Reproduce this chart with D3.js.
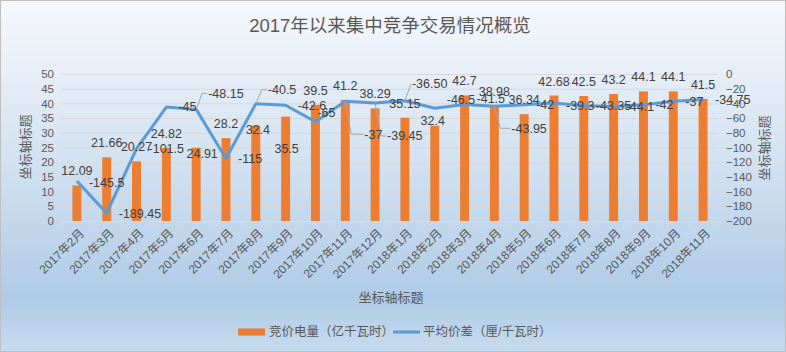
<!DOCTYPE html>
<html>
<head>
<meta charset="utf-8">
<script src="https://cdn.jsdelivr.net/npm/d3@7"></script>
<style>
  body { margin: 0; }
  text { font-family: "Liberation Sans", "Noto Sans CJK SC", sans-serif; }
</style>
</head>
<body>
<div id="chart"></div>
<script>
//Chart data
const months = ['2017年2月','2017年3月','2017年4月','2017年5月','2017年6月','2017年7月','2017年8月','2017年9月','2017年10月','2017年11月','2017年12月',
	'2018年1月','2018年2月','2018年3月','2018年4月','2018年5月','2018年6月','2018年7月','2018年8月','2018年9月','2018年10月','2018年11月'];
const volume = [12.09,21.66,20.27,24.82,24.91,28.2,32.4,35.5,39.5,41.2,38.29,35.15,32.4,42.7,38.98,36.34,42.68,42.5,43.2,44.1,44.1,41.5];
const spread = [-145.5,-189.45,-101.5,-45,-48.15,-115,-40.5,-42.6,-65,-37,-39.45,-36.50,-46.5,-41.5,-43.95,-42,-39.3,-43.35,-44.1,-42,-37,-34.75];
const spreadText = ['-145.5','-189.45','-101.5','-45','-48.15','-115','-40.5','-42.6','-65','-37','-39.45','-36.50','-46.5','-41.5','-43.95','-42','-39.3','-43.35','-44.1','-42','-37','-34.75'];
const leftTicks = [0,5,10,15,20,25,30,35,40,45,50];
const rightTicks = [0,-20,-40,-60,-80,-100,-120,-140,-160,-180,-200];
const seriesNames = ['竞价电量（亿千瓦时）','平均价差（厘/千瓦时）'];

//labels that were dragged away from their default spot: index -> [dx, dy]
const barLabelMove = {4: [6, 20], 6: [2, 18], 7: [1, 46], 12: [-2, 9]};
const lineLabelMove = {0: [0, 2], 4: [0, -16], 6: [0, -14], 8: [-10, -9], 9: [7, 33], 10: [0, 33],
	11: [-5, -17], 12: [0, -9], 13: [0, -6], 14: [5, 22], 16: [0, 3]};

const W = 786, H = 352;
const m = {l: 62, r: 718, t: 74, b: 221};
const orange = '#ED7D31', blue = '#5B9BD5', txt = '#595959', lbl = '#404040';

const svg = d3.select('#chart').append('svg').attr('width', W).attr('height', H);

//background gradient
const grad = svg.append('defs').append('linearGradient').attr('id','bg')
	.attr('x1',0).attr('y1',0).attr('x2',0).attr('y2',1);
grad.append('stop').attr('offset','0%').attr('stop-color','#f6f8fc');
grad.append('stop').attr('offset','45%').attr('stop-color','#d3e2f1');
grad.append('stop').attr('offset','85%').attr('stop-color','#afcbe6');
grad.append('stop').attr('offset','100%').attr('stop-color','#c6dbee');
svg.append('rect').attr('x',0.5).attr('y',0.5).attr('width',W-1).attr('height',H-1)
	.attr('fill','url(#bg)').attr('stroke','#bfbfbf');

//scales
const x = d3.scaleBand().domain(months).range([m.l, m.r]).paddingInner(0.7).paddingOuter(0.35);
const step = x.step();
const yL = d3.scaleLinear().domain([0,50]).range([m.b, m.t]);
const yR = d3.scaleLinear().domain([-200,0]).range([m.b, m.t]);
const cx = d => x(d) + x.bandwidth()/2;

//gridlines
svg.append('g').selectAll('line').data(leftTicks.slice(1)).join('line')
	.attr('x1', m.l).attr('x2', m.r)
	.attr('y1', d => yL(d) + 0.5).attr('y2', d => yL(d) + 0.5)
	.attr('stroke', '#d9d9d9').attr('stroke-width', 1);

//axes
const axL = svg.append('g').attr('transform', `translate(${m.l - 8},0)`)
	.call(d3.axisLeft(yL).tickValues(leftTicks).tickSize(0).tickPadding(0));
const axR = svg.append('g').attr('transform', `translate(${m.r + 8},0)`)
	.call(d3.axisRight(yR).tickValues(rightTicks).tickSize(0).tickPadding(0));
[axL, axR].forEach(a => {
	a.select('.domain').remove();
	a.selectAll('text').attr('fill', txt).style('font-size', '11.5px');
});

//x axis line with ticks between categories
const axB = svg.append('g');
axB.append('line').attr('x1', m.l).attr('x2', m.r).attr('y1', m.b + 0.5).attr('y2', m.b + 0.5).attr('stroke', '#d9d9d9');
axB.selectAll('.tk').data(d3.range(months.length + 1)).join('line')
	.attr('x1', i => m.l + i*step + 0.5).attr('x2', i => m.l + i*step + 0.5)
	.attr('y1', m.b).attr('y2', m.b + 5).attr('stroke', '#d9d9d9');
axB.selectAll('text').data(months).join('text')
	.attr('transform', d => `translate(${cx(d) + 5},${m.b + 10}) rotate(-45)`)
	.attr('text-anchor', 'end').attr('dy', '0.35em')
	.attr('fill', txt).style('font-size', '12px')
	.text(d => d);

//bars
svg.append('g').selectAll('rect').data(months).join('rect')
	.attr('x', d => x(d)).attr('width', x.bandwidth())
	.attr('y', (d,i) => yL(volume[i])).attr('height', (d,i) => m.b - yL(volume[i]))
	.attr('fill', orange);

//line
const line = d3.line().x((d,i) => cx(months[i])).y(d => yR(d));
svg.append('path').datum(spread).attr('d', line)
	.attr('fill', 'none').attr('stroke', blue).attr('stroke-width', 3).attr('stroke-linejoin', 'round');

//bar labels
svg.append('g').selectAll('text').data(months).join('text')
	.attr('x', (d,i) => cx(d) + (barLabelMove[i] ? barLabelMove[i][0] : 0))
	.attr('y', (d,i) => yL(volume[i]) - 10 + (barLabelMove[i] ? barLabelMove[i][1] : 0))
	.attr('text-anchor', 'middle').attr('fill', lbl).style('font-size', '12.5px')
	.text((d,i) => volume[i]);

//line labels, with leader lines for the ones moved far
const linePos = months.map((d,i) => {
	const mv = lineLabelMove[i] || [0, 0];
	return {px: cx(d), py: yR(spread[i]), lx: cx(d) + 12 + mv[0], ly: yR(spread[i]) + mv[1], far: Math.abs(mv[1]) > 12};
});
svg.append('g').selectAll('path').data(linePos.filter(p => p.far)).join('path')
	.attr('d', p => `M${p.px},${p.py}L${p.px + 6},${p.ly}L${p.lx - 1},${p.ly}`)
	.attr('fill', 'none').attr('stroke', '#a6a6a6').attr('stroke-width', 1);
svg.append('g').selectAll('text').data(linePos).join('text')
	.attr('x', p => p.lx).attr('y', p => p.ly)
	.attr('dy', '0.35em').attr('fill', lbl).style('font-size', '12.5px')
	.text((p,i) => spreadText[i]);

//titles
svg.append('text').attr('x', 390).attr('y', 32).attr('text-anchor', 'middle')
	.attr('fill', txt).style('font-size', '18.5px').text('2017年以来集中竞争交易情况概览');
svg.append('text').attr('transform', 'translate(25,147) rotate(-90)').attr('text-anchor', 'middle')
	.attr('dy', '0.35em').attr('fill', txt).style('font-size', '13px').text('坐标轴标题');
svg.append('text').attr('transform', 'translate(764,148) rotate(-90)').attr('text-anchor', 'middle')
	.attr('dy', '0.35em').attr('fill', txt).style('font-size', '13px').text('坐标轴标题');
svg.append('text').attr('x', 391).attr('y', 302).attr('text-anchor', 'middle')
	.attr('fill', txt).style('font-size', '13px').text('坐标轴标题');

//legend
const lg = svg.append('g').attr('transform', 'translate(238,332)');
lg.append('rect').attr('x', 0).attr('y', -3.5).attr('width', 27).attr('height', 7).attr('fill', orange);
lg.append('text').attr('x', 31).attr('dy', '0.35em').attr('fill', txt).style('font-size', '12.5px').text(seriesNames[0]);
lg.append('line').attr('x1', 155).attr('x2', 182).attr('y1', 0).attr('y2', 0).attr('stroke', blue).attr('stroke-width', 3);
lg.append('text').attr('x', 185).attr('dy', '0.35em').attr('fill', txt).style('font-size', '12.5px').text(seriesNames[1]);
</script>
</body>
</html>
